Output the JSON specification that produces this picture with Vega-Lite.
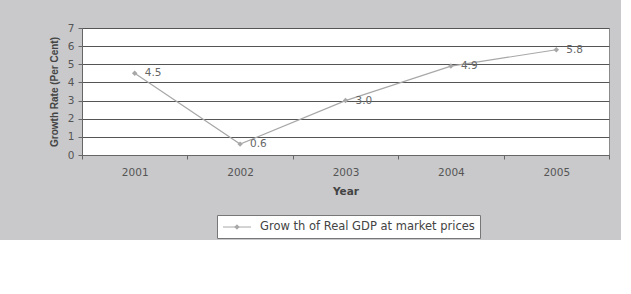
{
  "$schema": "https://vega.github.io/schema/vega-lite/v6.json",
  "width": 527,
  "height": 127,
  "autosize": {"type": "none"},
  "padding": {"left": 82, "top": 28, "right": 12, "bottom": 85},
  "background": "#c9c9cb",
  "config": {
    "font": "DejaVu Sans",
    "view": {"fill": "white", "stroke": "#8a8a8a", "strokeWidth": 1}
  },
  "data": {
    "values": [
      {"year": "2001", "growth": 4.5, "series": "Grow th of Real GDP at market prices"},
      {"year": "2002", "growth": 0.6, "series": "Grow th of Real GDP at market prices"},
      {"year": "2003", "growth": 3.0, "series": "Grow th of Real GDP at market prices"},
      {"year": "2004", "growth": 4.9, "series": "Grow th of Real GDP at market prices"},
      {"year": "2005", "growth": 5.8, "series": "Grow th of Real GDP at market prices"}
    ]
  },
  "encoding": {
    "x": {
      "field": "year", "type": "ordinal",
      "scale": {"paddingInner": 0, "paddingOuter": 0},
      "axis": {
        "title": "Year", "titleFontSize": 10.5, "titleFontWeight": "bold", "titleColor": "#444",
        "titlePadding": 9,
        "labelAngle": 0, "labelFontSize": 10.5, "labelColor": "#555", "labelPadding": 8,
        "tickBand": "extent", "tickColor": "#666", "tickSize": 4,
        "domainColor": "#666", "grid": false
      }
    },
    "y": {
      "field": "growth", "type": "quantitative",
      "scale": {"domain": [0, 7], "nice": false},
      "axis": {
        "title": "Growth Rate (Per Cent)", "titleFont": "Liberation Sans", "titleFontSize": 10, "titleFontWeight": "bold", "titleColor": "#444",
        "titlePadding": 8,
        "values": [0, 1, 2, 3, 4, 5, 6, 7],
        "labelFontSize": 10.5, "labelColor": "#555", "labelPadding": 4,
        "tickColor": "#666", "tickSize": 4,
        "domainColor": "#666",
        "grid": true, "gridColor": "#555", "gridWidth": 1
      }
    }
  },
  "layer": [
    {
      "mark": {"type": "line", "strokeWidth": 1.2, "point": {"shape": "diamond", "filled": true, "size": 30, "color": "#999"}},
      "encoding": {
        "color": {
          "field": "series", "type": "nominal",
          "scale": {"range": ["#a8a8a8"]},
          "legend": {
            "title": null, "orient": "none", "legendX": 135, "legendY": 187,
            "fillColor": "white", "strokeColor": "#777", "padding": 5,
            "labelFontSize": 11.5, "labelColor": "#444", "labelLimit": 400, "labelOffset": 24,
            "symbolType": "M-0.98,0H3.6M1.3,-0.36L1.66,0L1.3,0.36L0.94,0Z",
            "symbolSize": 150, "symbolStrokeWidth": 1, "symbolFillColor": "#999", "symbolStrokeColor": "#999"
          }
        }
      }
    },
    {
      "mark": {"type": "text", "align": "left", "baseline": "middle", "dx": 10, "fontSize": 10.5, "color": "#666"},
      "encoding": {
        "text": {"field": "growth", "type": "quantitative", "format": ".1f"}
      }
    }
  ]
}
